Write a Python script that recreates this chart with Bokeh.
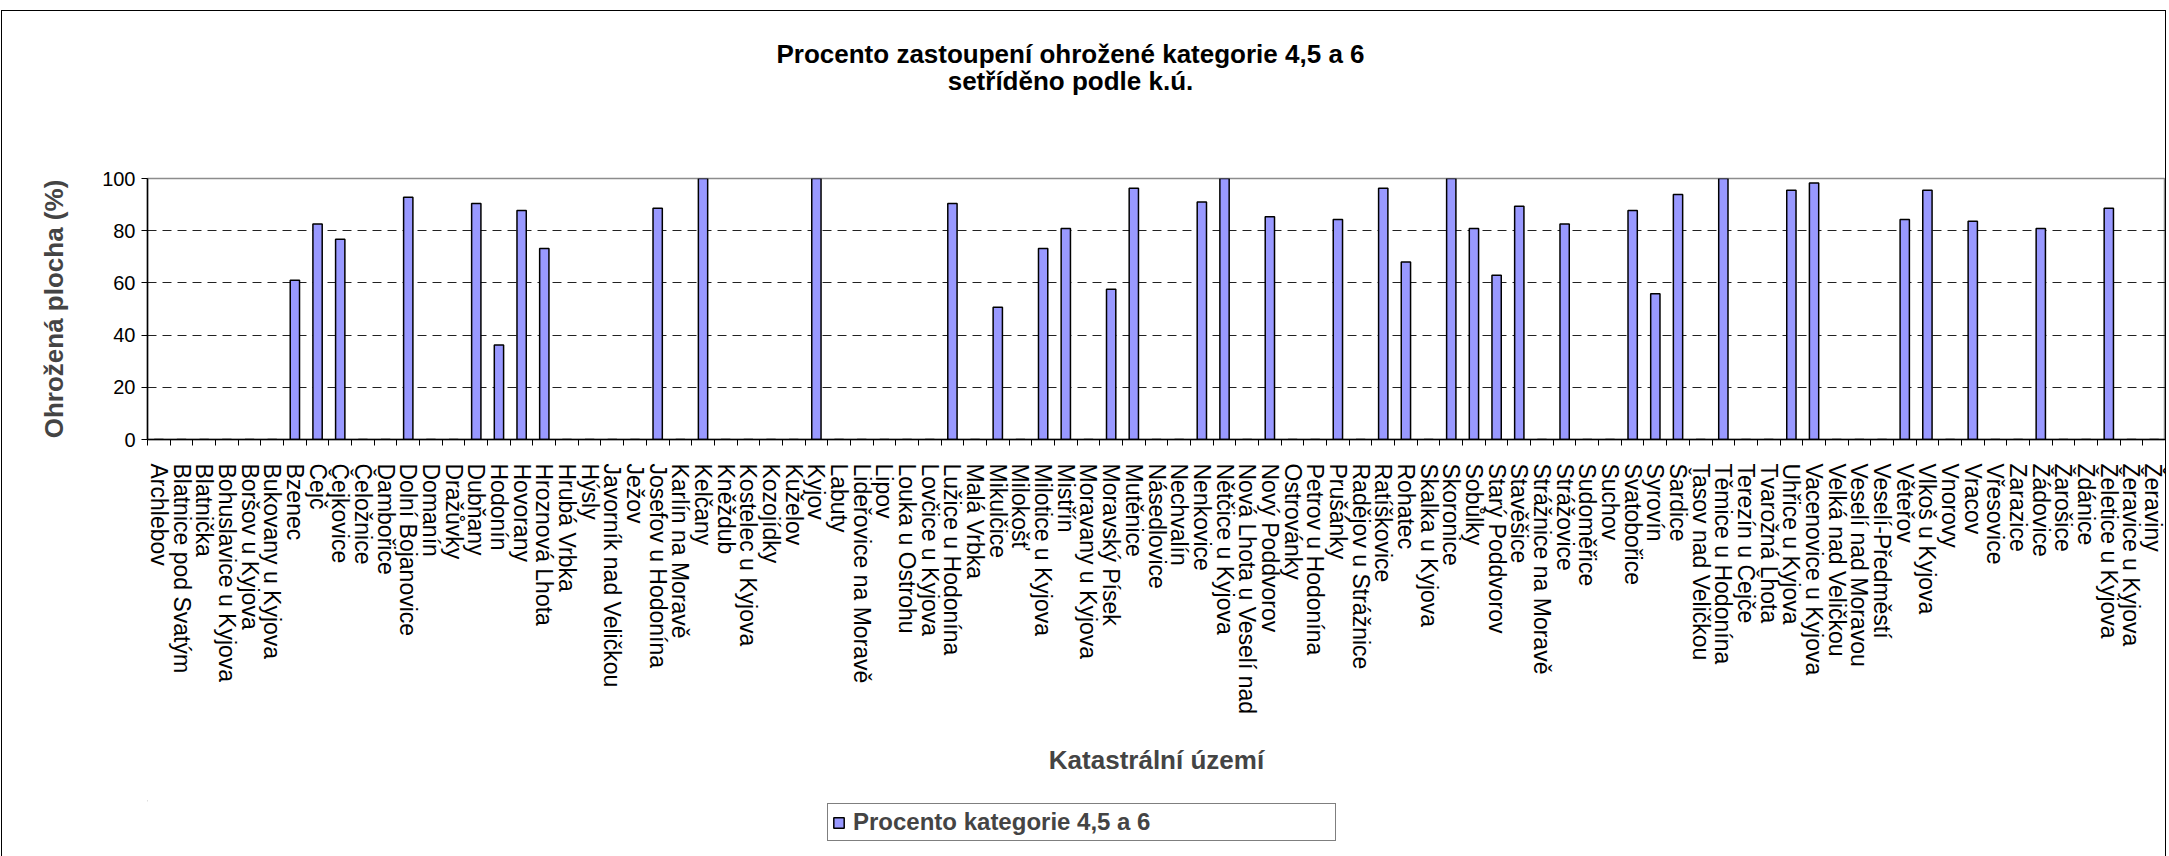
import math
from bokeh.plotting import figure
from bokeh.layouts import column
from bokeh.models import Range1d, FixedTicker, Legend, LegendItem, ColumnDataSource, Label
from bokeh.embed import file_html
from bokeh.resources import INLINE

categories = [
    "Archlebov", "Blatnice pod Svatým", "Blatnička", "Bohuslavice u Kyjova", "Boršov u Kyjova",
    "Bukovany u Kyjova", "Bzenec", "Čejč", "Čejkovice", "Čeložnice", "Dambořice",
    "Dolní Bojanovice", "Domanín", "Dražůvky", "Dubňany", "Hodonín", "Hovorany",
    "Hroznová Lhota", "Hrubá Vrbka", "Hýsly", "Javorník nad Veličkou", "Ježov",
    "Josefov u Hodonína", "Karlín na Moravě", "Kelčany", "Kněždub", "Kostelec u Kyjova",
    "Kozojídky", "Kuželov", "Kyjov", "Labuty", "Lideřovice na Moravě", "Lipov",
    "Louka u Ostrohu", "Lovčice u Kyjova", "Lužice u Hodonína", "Malá Vrbka", "Mikulčice",
    "Milokošť", "Milotice u Kyjova", "Mistřín", "Moravany u Kyjova", "Moravský Písek",
    "Mutěnice", "Násedlovice", "Nechvalín", "Nenkovice", "Nětčice u Kyjova",
    "Nová Lhota u Veselí nad", "Nový Poddvorov", "Ostrovánky", "Petrov u Hodonína",
    "Prušánky", "Radějov u Strážnice", "Ratíškovice", "Rohatec", "Skalka u Kyjova",
    "Skoronice", "Sobůlky", "Starý Poddvorov", "Stavěšice", "Strážnice na Moravě",
    "Strážovice", "Sudoměřice", "Suchov", "Svatobořice", "Syrovín", "Šardice",
    "Tasov nad Veličkou", "Těmice u Hodonína", "Terezín u Čejče", "Tvarožná Lhota",
    "Uhřice u Kyjova", "Vacenovice u Kyjova", "Velká nad Veličkou", "Veselí nad Moravou",
    "Veselí-Předměstí", "Věteřov", "Vlkoš u Kyjova", "Vnorovy", "Vracov", "Vřesovice",
    "Zarazice", "Žádovice", "Žarošice", "Ždánice", "Želetice u Kyjova",
    "Žeravice u Kyjova", "Žeraviny",
]

values = [
    0, 0, 0, 0, 0,
    0, 61, 82.6, 76.7, 0, 0,
    92.8, 0, 0, 90.4, 36.2, 87.7,
    73.2, 0, 0, 0, 0,
    88.6, 0, 100, 0, 0,
    0, 0, 100, 0, 0, 0,
    0, 0, 90.4, 0, 50.7,
    0, 73.2, 80.8, 0, 57.6,
    96.3, 0, 0, 91.0, 100,
    0, 85.3, 0, 0,
    84.3, 0, 96.3, 68.0, 0,
    100, 80.8, 62.9, 89.4, 0,
    82.6, 0, 0, 87.7, 55.8, 93.9,
    0, 100, 0, 0,
    95.5, 98.3, 0, 0,
    0, 84.3, 95.5, 0, 83.6, 0,
    0, 80.8, 0, 0, 88.6,
    0, 0,
]

y_ticks = [0, 20, 40, 60, 80, 100]
grid_ticks = [20, 40, 60, 80]

series_name = "Procento kategorie 4,5 a 6"
title_1 = "Procento zastoupení ohrožené kategorie 4,5 a 6"
title_2 = "setříděno podle k.ú."
x_title = "Katastrální území"
y_title = "Ohrožená plocha (%)"

FONT = "Liberation Sans"
TITLE_PX = "26px"
BAR_FILL = "#9999FF"

W = 2163          # content width (inside the chart border)
LEFT = 145        # space left of the plot frame
H_HEAD, H_MAIN, H_LEG = 140, 649, 56

n = len(categories)
centers = [i + 0.5 for i in range(n)]
bounds = [float(i) for i in range(n + 1)]
source = ColumnDataSource(dict(x=centers, top=values, name=categories))


def bare(height):
    f = figure(width=W, height=height, output_backend="svg", toolbar_location=None,
               x_range=Range1d(LEFT, W), y_range=Range1d(height, 0),
               x_axis_type=None, y_axis_type=None,
               min_border_left=LEFT, min_border_right=0,
               min_border_top=0, min_border_bottom=0)
    f.outline_line_color = None
    f.xgrid.visible = False
    f.ygrid.visible = False
    f.background_fill_color = "white"
    f.border_fill_color = "white"
    return f


# ---- header with the two title lines ----
head = bare(H_HEAD)
for txt, yy in ((title_1, 42), (title_2, 69)):
    head.add_layout(Label(x=1068, y=yy, text=txt, text_font=FONT, text_font_size=TITLE_PX,
                          text_font_style="bold", text_align="center", text_baseline="middle",
                          text_color="black"))

# ---- main chart ----
p = figure(
    width=W, height=H_MAIN,
    output_backend="svg", toolbar_location=None,
    x_range=Range1d(0, n), y_range=Range1d(0, 100),
    min_border_left=LEFT, min_border_right=0,
    min_border_top=27, min_border_bottom=H_MAIN - 27 - 261,
)
p.background_fill_color = "white"
p.border_fill_color = "white"
p.outline_line_color = "#8c8c8c"
p.outline_line_width = 1.5

p.vbar(x="x", top="top", width=0.41, source=source,
       fill_color=BAR_FILL, line_color="black", line_width=1.5)

xa = p.xaxis[0]
xa.ticker = FixedTicker(ticks=centers, minor_ticks=bounds)
xa.major_label_overrides = {c: name for c, name in zip(centers, categories)}
xa.major_tick_out = 0
xa.major_tick_in = 0
xa.minor_tick_out = 6
xa.minor_tick_in = 0
xa.minor_tick_line_color = "black"
xa.axis_line_color = "black"
xa.axis_line_width = 1.5
xa.major_label_orientation = -math.pi / 2
xa.major_label_standoff = 18
xa.major_label_text_font = FONT
xa.major_label_text_font_size = "23px"
xa.major_label_text_color = "black"
xa.axis_label = x_title
xa.axis_label_text_font = FONT
xa.axis_label_text_font_size = TITLE_PX
xa.axis_label_text_font_style = "bold"
xa.axis_label_standoff = 28

ya = p.yaxis[0]
ya.ticker = FixedTicker(ticks=y_ticks, minor_ticks=[])
ya.major_tick_out = 6
ya.major_tick_in = 0
ya.major_tick_line_color = "black"
ya.axis_line_color = "black"
ya.axis_line_width = 1.5
ya.major_label_text_font = FONT
ya.major_label_text_font_size = "20px"
ya.major_label_text_color = "black"
ya.major_label_standoff = 6
ya.axis_label = y_title
ya.axis_label_text_font = FONT
ya.axis_label_text_font_size = TITLE_PX
ya.axis_label_text_font_style = "bold"
ya.axis_label_standoff = 30

p.xgrid.visible = False
p.ygrid.ticker = FixedTicker(ticks=grid_ticks, minor_ticks=[])
p.ygrid.grid_line_color = "#222222"
p.ygrid.grid_line_dash = "9 6"
p.ygrid.grid_line_width = 1

# ---- legend strip ----
leg = bare(H_LEG)
# off-screen helper glyph that only provides the legend swatch style
swatch = leg.vbar(x=[-10 * W], top=[0], width=1, fill_color=BAR_FILL,
                  line_color="black", line_width=1.5)
legend = Legend(
    items=[LegendItem(label=series_name, renderers=[swatch])],
    location=(680, 15),
    orientation="vertical",
    border_line_color="black", border_line_width=1,
    background_fill_color="white", background_fill_alpha=1,
    label_text_font=FONT, label_text_font_size="24px", label_text_font_style="bold",
    glyph_width=13, glyph_height=13, label_standoff=8,
    padding=4, margin=0, spacing=0, label_width=478,
)
leg.add_layout(legend, "center")

layout = column(head, p, leg, spacing=0)
layout.styles = {
    "border-left": "1px solid black",
    "border-top": "1px solid black",
    "border-right": "1px solid black",
    "margin-top": "10px",
    "margin-left": "1px",
}
open("out.html", "w").write(file_html(layout, INLINE))
